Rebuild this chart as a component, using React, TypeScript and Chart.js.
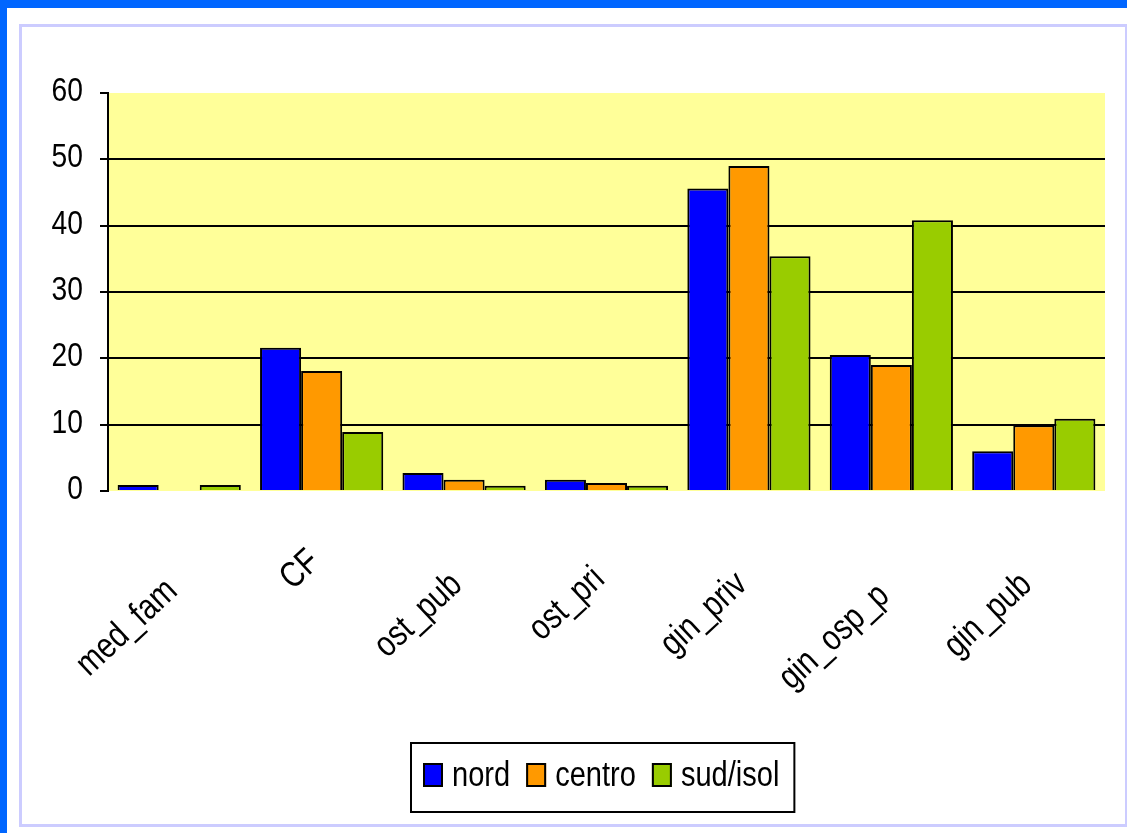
import React, { useEffect, useRef } from 'react';
import { Chart, registerables } from 'chart.js';

Chart.register(...registerables);

const categories = ['med_fam', 'CF', 'ost_pub', 'ost_pri', 'gin_priv', 'gin_osp_p', 'gin_pub'];
const seriesNames = ['nord', 'centro', 'sud/isol'];
const nordValues = [0.9, 21.6, 2.7, 1.7, 45.6, 20.5, 6.0];
const centroValues = [null, 18.1, 1.7, 1.2, 49.0, 19.0, 9.9];
const sudIsolValues = [0.9, 8.9, 0.8, 0.8, 35.4, 40.8, 10.9];
const seriesColors = ['#0000ff', '#ff9900', '#99cc00'];
const yMin = 0;
const yMax = 60;
const yStep = 10;

const FONT = '"Liberation Sans", Arial, sans-serif';
const NARROW = 0.83;

const framePlugin = {
  id: 'framePlugin',
  beforeDraw(chart: any) {
    const { ctx, width, height, chartArea } = chart;
    ctx.save();
    ctx.fillStyle = '#ffffff';
    ctx.fillRect(0, 0, width, height);
    ctx.fillStyle = '#0066ff';
    ctx.fillRect(0, 0, width, 8);
    ctx.fillRect(0, 0, 7, height);
    ctx.fillStyle = '#ccccff';
    ctx.fillRect(19, 24, width - 19, 3);
    ctx.fillRect(19, 24, 3, 803);
    ctx.fillRect(19, 824, width - 19, 3);
    ctx.fillRect(width - 2, 24, 2, 803);
    ctx.fillStyle = '#ffff99';
    ctx.fillRect(chartArea.left, chartArea.top, chartArea.right - chartArea.left, chartArea.bottom - chartArea.top);
    ctx.restore();
  },
  afterDraw(chart: any) {
    const { ctx } = chart;
    ctx.save();
    ctx.fillStyle = '#000';

    // y tick labels (narrow)
    const ys = chart.scales.y;
    ctx.font = `34px ${FONT}`;
    ctx.textAlign = 'right';
    ctx.textBaseline = 'alphabetic';
    ys.ticks.forEach((t: any) => {
      const py = ys.getPixelForValue(t.value);
      ctx.save();
      ctx.translate(83, py + 8);
      ctx.scale(NARROW, 1);
      ctx.fillText(String(t.label), 0, 0);
      ctx.restore();
    });

    // x category labels (narrow, rotated)
    const xs = chart.scales.x;
    ctx.font = `36px ${FONT}`;
    ctx.textAlign = 'right';
    ctx.textBaseline = 'middle';
    xs.ticks.forEach((t: any, i: number) => {
      const px = xs.getPixelForTick(i);
      const text = String(t.label);
      const len = ctx.measureText(text).width * 0.82;
      ctx.save();
      ctx.translate(px - 7, 543 + 0.35 * len);
      ctx.rotate((-43 * Math.PI) / 180);
      ctx.scale(0.82, 1);
      ctx.fillText(text, 0, 0);
      ctx.restore();
    });

    // legend
    const ds = chart.data.datasets;
    ctx.font = `35px ${FONT}`;
    const boxW = 20, boxH = 24, gapBox = 9, gapItem = 16, padL = 13, padR = 16;
    const widths = ds.map((d: any) => ctx.measureText(d.label).width * NARROW);
    let total = 0;
    widths.forEach((w: number, i: number) => {
      total += boxW + gapBox + w + (i > 0 ? gapItem : 0);
    });
    const frameW = total + padL + padR;
    const cx = 603;
    const left = Math.round(cx - frameW / 2);
    const top = 742;
    const bottom = 813;
    ctx.strokeStyle = '#000';
    ctx.lineWidth = 2;
    ctx.strokeRect(left + 1, top + 1, frameW - 2, bottom - top - 2);
    let x = left + padL;
    ds.forEach((d: any, i: number) => {
      ctx.fillStyle = d.backgroundColor;
      ctx.fillRect(x, 763, boxW, boxH);
      ctx.strokeStyle = '#000';
      ctx.lineWidth = 2;
      ctx.strokeRect(x + 1, 764, boxW - 2, boxH - 2);
      x += boxW + gapBox;
      ctx.fillStyle = '#000';
      ctx.textBaseline = 'alphabetic';
      ctx.textAlign = 'left';
      ctx.save();
      ctx.translate(x, 786);
      ctx.scale(NARROW, 1);
      ctx.fillText(d.label, 0, 0);
      ctx.restore();
      x += widths[i] + gapItem;
    });
    ctx.restore();
  },
};

export default function App() {
  const ref = useRef<HTMLCanvasElement | null>(null);
  useEffect(() => {
    document.body.style.margin = '0';
    if (!ref.current) return;
    const values = [nordValues, centroValues, sudIsolValues];
    const chart = new Chart(ref.current, {
      type: 'bar',
      data: {
        labels: categories,
        datasets: seriesNames.map((name, i) => ({
          label: name,
          data: values[i] as any,
          backgroundColor: seriesColors[i],
          borderColor: '#000000',
          borderWidth: 2,
          borderSkipped: 'start',
          categoryPercentage: 0.865,
          barPercentage: 1.0,
        })),
      },
      options: {
        responsive: false,
        animation: false,
        devicePixelRatio: 1,
        layout: { padding: { left: 30, top: 93, right: 22, bottom: 0 } },
        plugins: {
          legend: { display: false },
          tooltip: { enabled: false },
          title: { display: false },
        },
        scales: {
          x: {
            grid: { display: false },
            border: { display: false },
            ticks: { display: false, autoSkip: false },
            afterFit: (s: any) => {
              s.height = 833 - 491;
            },
          },
          y: {
            min: yMin,
            max: yMax,
            ticks: { display: false, stepSize: yStep },
            grid: {
              color: (c: any) => (c.tick && (c.tick.value === yMin || c.tick.value === yMax) ? 'rgba(0,0,0,0)' : '#000'),
              lineWidth: 2,
              tickColor: '#000',
              tickWidth: 2,
              tickLength: 8,
              drawTicks: true,
            },
            border: { display: true, color: '#000', width: 2 },
            afterFit: (s: any) => {
              s.width = 108 - 30;
            },
          },
        },
      },
      plugins: [framePlugin],
    });
    return () => chart.destroy();
  }, []);
  return <canvas ref={ref} width={1127} height={833} style={{ display: 'block' }} />;
}
